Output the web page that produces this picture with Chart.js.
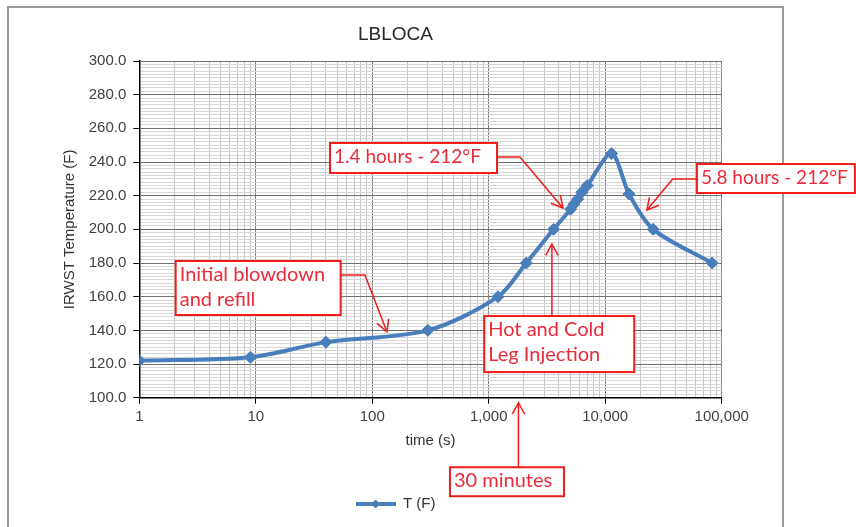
<!DOCTYPE html>
<html>
<head>
<meta charset="utf-8">
<script src="https://cdn.jsdelivr.net/npm/chart.js"></script>
<style>
  html, body { margin: 0; padding: 0; background: #fff; overflow: hidden; }
  #wrap { position: relative; width: 856px; height: 527px; }
  #frame { position: absolute; left: 7px; top: 6px; width: 773px; height: 600px; border: 2px solid #999; }
  #chart { position: absolute; left: 0; top: 0; }
</style>
</head>
<body>
<div id="wrap">
  <div id="frame"></div>
  <canvas id="chart" width="856" height="527"></canvas>
</div>
<script>
// time (s) and IRWST temperature (F)
const times = [1, 9, 40, 300, 1200, 2100, 3600, 5040, 5400, 5800, 6300, 7000, 11350, 16000, 25800, 82800];
const temps = [122, 124, 133, 140, 160, 180, 200, 212, 215, 218, 222, 226, 245, 221, 200, 180];

const decades = [1, 10, 100, 1000, 10000, 100000];
const yMin = 100, yMax = 300, yMajor = 20, yMinor = 2;

const blue = '#4a7ebb';
const red = '#f01c1c';
const textRed = '#ec2a3a';

// callouts: box top-left and arrow path in data units (time, temp)
const notes = [
    { lines: ['1.4 hours - 212°F'], at: [43.4, 251.3], w: 167, h: 30, size: 19,
      arrow: [[1176, 243], [1853, 243], [4335, 212.7]] },
    { lines: ['5.8 hours - 212°F'], at: [61240, 238.8], w: 158, h: 29, size: 19,
      arrow: [[61240, 229.9], [37960, 229.9], [22800, 211.5]] },
    { lines: ['Initial blowdown', 'and refill'], at: [2.053, 181.2], w: 165, h: 54, size: 20,
      arrow: [[53.9, 172.9], [86.5, 172.9], [133.7, 139.2]] },
    { lines: ['Hot and Cold', 'Leg Injection'], at: [915, 148.5], w: 150, h: 56, size: 20,
      arrow: [[3487, 148.5], [3487, 191.3]] },
    { lines: ['30 minutes'], at: [464.5, 58.7], w: 114, h: 29, size: 20,
      arrow: [[1800, 58.7], [1800, 97]] }
];

Chart.defaults.font.family = "'Liberation Sans', Arial, sans-serif";
Chart.defaults.color = '#404040';

function drawArrowHead(ctx, from, to) {
    const ang = Math.atan2(to[1] - from[1], to[0] - from[0]);
    const len = 13, spread = 0.5;
    ctx.beginPath();
    ctx.moveTo(to[0] - len * Math.cos(ang - spread), to[1] - len * Math.sin(ang - spread));
    ctx.lineTo(to[0], to[1]);
    ctx.lineTo(to[0] - len * Math.cos(ang + spread), to[1] - len * Math.sin(ang + spread));
    ctx.stroke();
}

const notesPlugin = {
    id: 'notes',
    afterDraw(chart) {
        const ctx = chart.ctx;
        const x = chart.scales.x, y = chart.scales.y;
        const px = p => [x.getPixelForValue(p[0]), y.getPixelForValue(p[1])];
        ctx.save();
        notes.forEach(n => {
            const pts = n.arrow.map(px);
            ctx.strokeStyle = red;
            ctx.lineWidth = 1.5;
            ctx.beginPath();
            pts.forEach((p, i) => i ? ctx.lineTo(p[0], p[1]) : ctx.moveTo(p[0], p[1]));
            ctx.stroke();
            drawArrowHead(ctx, pts[pts.length - 2], pts[pts.length - 1]);

            const [bx, by] = px(n.at);
            ctx.fillStyle = '#fff';
            ctx.fillRect(bx, by, n.w, n.h);
            ctx.lineWidth = 2;
            ctx.strokeRect(bx, by, n.w, n.h);
            ctx.fillStyle = textRed;
            ctx.font = n.size + "px Lato, 'Open Sans', sans-serif";
            ctx.textBaseline = 'alphabetic';
            ctx.textAlign = 'left';
            n.lines.forEach((line, i) => ctx.fillText(line, bx + 4, by + 20 + i * 25));
        });
        ctx.restore();
    }
};

// legend sample: line with a diamond in the middle
const legendIcon = document.createElement('canvas');
legendIcon.width = 40;
legendIcon.height = 12;
(() => {
    const c = legendIcon.getContext('2d');
    c.strokeStyle = blue;
    c.fillStyle = blue;
    c.lineWidth = 4;
    c.beginPath();
    c.moveTo(0, 6);
    c.lineTo(40, 6);
    c.stroke();
    c.beginPath();
    c.moveTo(20, 1.5);
    c.lineTo(24.5, 6);
    c.lineTo(20, 10.5);
    c.lineTo(15.5, 6);
    c.closePath();
    c.fill();
})();

const isDecade = v => decades.some(d => Math.abs(d - v) < 1e-6);

new Chart(document.getElementById('chart'), {
    type: 'line',
    data: {
        datasets: [{
            label: 'T (F)',
            data: times.map((t, i) => ({ x: t, y: temps[i] })),
            borderColor: blue,
            backgroundColor: blue,
            borderWidth: 4,
            pointStyle: 'rectRot',
            pointRadius: 6,
            pointBackgroundColor: blue,
            pointBorderColor: blue,
            pointBorderWidth: 1,
            tension: 0.3
        }]
    },
    options: {
        responsive: false,
        animation: false,
        events: [],
        layout: { padding: { left: 8, right: 73, top: 7, bottom: 5.5 } },
        plugins: {
            title: {
                display: true,
                text: 'LBLOCA',
                color: '#262626',
                font: { size: 19, weight: 'normal' },
                padding: { top: 16.6, bottom: 14.6 }
            },
            legend: {
                position: 'bottom',
                labels: {
                    usePointStyle: true,
                    pointStyleWidth: 40,
                    boxHeight: 12,
                    color: '#333',
                    font: { size: 15 },
                    generateLabels: chart => Chart.defaults.plugins.legend.labels.generateLabels(chart)
                        .map(l => Object.assign(l, { pointStyle: legendIcon }))
                }
            },
            tooltip: { enabled: false }
        },
        scales: {
            x: {
                type: 'logarithmic',
                min: decades[0],
                max: decades[decades.length - 1],
                afterBuildTicks: scale => {
                    const ticks = [];
                    decades.forEach((d, i) => {
                        if (i === decades.length - 1) { ticks.push({ value: d }); return; }
                        for (let m = 1; m < 10; m++) ticks.push({ value: d * m });
                    });
                    scale.ticks = ticks;
                },
                afterFit: scale => {
                    scale.height = 88.8;
                    scale.paddingRight = 134.3;
                },
                ticks: {
                    autoSkip: false,
                    maxRotation: 0,
                    padding: 4,
                    color: '#404040',
                    font: { size: 15 },
                    callback: v => isDecade(v) ? v.toLocaleString('en-US') : ''
                },
                grid: {
                    color: c => isDecade(c.tick.value) ? '#808080' : '#c4c4c4',
                    tickColor: c => isDecade(c.tick.value) ? '#000' : 'rgba(0,0,0,0)',
                    tickLength: 6
                },
                border: { color: '#000', width: 1.5 },
                title: {
                    display: true,
                    text: 'time (s)',
                    color: '#333',
                    font: { size: 15 },
                    padding: { top: 0, bottom: 36.5 }
                }
            },
            y: {
                min: yMin,
                max: yMax,
                afterFit: scale => { scale.width = 131.3; },
                ticks: {
                    stepSize: yMinor,
                    autoSkip: false,
                    padding: 7,
                    color: '#404040',
                    font: { size: 15 },
                    callback: v => v % yMajor === 0 ? v.toFixed(1) : ''
                },
                grid: {
                    color: c => c.tick.value % yMajor === 0 ? '#707070' : '#d6d6d6',
                    tickColor: c => c.tick.value % yMajor === 0 ? '#000' : 'rgba(0,0,0,0)',
                    tickLength: 6
                },
                border: { color: '#000', width: 1.5 },
                title: {
                    display: true,
                    text: 'IRWST Temperature (F)',
                    color: '#333',
                    font: { size: 15 },
                    padding: { top: 53, bottom: 0 }
                }
            }
        }
    },
    plugins: [notesPlugin]
});
</script>
</body>
</html>
